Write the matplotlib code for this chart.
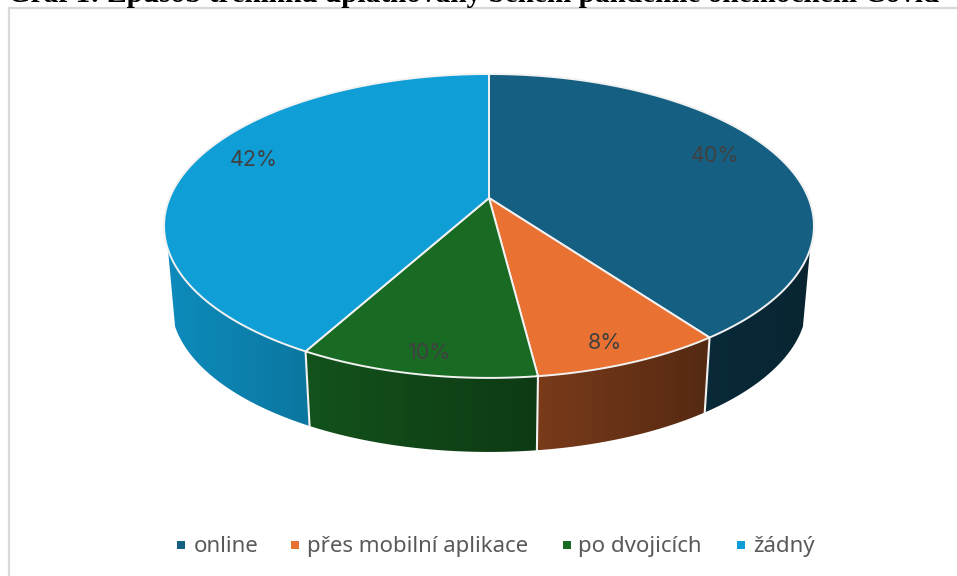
import numpy as np
import matplotlib
matplotlib.use('Agg')
import matplotlib.pyplot as plt
from matplotlib.patches import Polygon, Rectangle

# data
categories = ['online', 'přes mobilní aplikace', 'po dvojicích', 'žádný']
shares = [40, 8, 10, 42]
colors = ['#156082', '#E97132', '#196B24', '#0F9ED5']
title = 'Graf 1: Způsob tréninku uplatňovaný během pandemie onemocnění Covid'

# side shading, per slice: (at left end, at right end)
side_shade = [(0.44, 0.38), (0.52, 0.365), (0.77, 0.54), (0.88, 0.75)]

# layout of the tilted pie, in pixels
CX, CY = 489, 198
R, A, K = 319.4, 146.8, 0.184
DEPTH, BOTTOM_SCALE = 78, 0.978
SIDE_V = 0.33
EDGE = '#f2f2f2'
label_r = [0.8, 0.9, 0.9, 0.8]
label_nudge = [(-7, -7), (-9, 0), (5, 0), (4, -10)]
legend_box_x = [181, 295, 567, 741]
legend_text_x = [194, 307, 578, 753]
LEGEND_Y = 545


def top_xy(phi, r=1.0):
    # clockwise angle from 12 o'clock -> screen point with perspective
    u, v = r * np.sin(phi), -r * np.cos(phi)
    d = 1 - K * v
    return CX + R * u / d, CY + A * v / d


def bottom_xy(phi):
    x, y = top_xy(phi)
    return CX + BOTTOM_SCALE * (x - CX), CY + BOTTOM_SCALE * (y - CY) + DEPTH


fig = plt.figure(figsize=(9.57, 5.76), dpi=100)
ax = fig.add_axes([0, 0, 1, 1])
ax.axis('off')

# cut off title and chart frame
ax.text(8, 2, title, family='Liberation Serif', weight='bold', fontsize=21.1,
        va='baseline', ha='left', color='black')
ax.plot([9, 9, 957], [576, 8, 8], color='#d9d9d9', lw=1.6, solid_joinstyle='miter')

edges = np.radians(np.concatenate([[0], np.cumsum(shares) * 3.6]))
side_from = np.arccos(-SIDE_V)
side_to = 2 * np.pi - side_from

# side wall, gradient image clipped to each slice's outline
for i in range(len(shares)):
    a0 = max(edges[i], side_from)
    a1 = min(edges[i + 1], side_to)
    if a1 <= a0:
        continue
    phis = np.linspace(a0, a1, 120)
    xt, yt = top_xy(phis)
    xb, yb = bottom_xy(phis)
    outline = np.column_stack([np.r_[xt, xb[::-1]], np.r_[yt, yb[::-1]]])
    poly = Polygon(outline, closed=True, fc='none', ec='none', transform=ax.transData)
    ax.add_patch(poly)
    x_lo, x_hi = outline[:, 0].min(), outline[:, 0].max()
    y_lo, y_hi = outline[:, 1].min(), outline[:, 1].max()
    shade = np.linspace(side_shade[i][0], side_shade[i][1], 256)
    rgb = np.array(matplotlib.colors.to_rgb(colors[i]))
    grad = shade[None, :, None] * rgb[None, None, :]
    im = ax.imshow(grad, extent=(x_lo, x_hi, y_hi, y_lo), aspect='auto',
                   interpolation='bilinear', zorder=2)
    im.set_clip_path(poly)

ax.set_xlim(0, 957)
ax.set_ylim(576, 0)

# white lines between the side walls
for e in edges[1:-1]:
    if side_from < e < side_to:
        x0, y0 = top_xy(e)
        x1, y1 = bottom_xy(e)
        ax.plot([x0, x1], [y0, y1], color=EDGE, lw=1.5, zorder=3)

# top face
for i in range(len(shares)):
    phis = np.linspace(edges[i], edges[i + 1], 200)
    xs, ys = top_xy(phis)
    p = np.column_stack([np.r_[CX, xs], np.r_[CY, ys]])
    ax.add_patch(Polygon(p, closed=True, fc=colors[i], ec=EDGE, lw=1.4,
                         joinstyle='round', zorder=4))

# value labels
for i, v in enumerate(shares):
    mid = (edges[i] + edges[i + 1]) / 2
    x, y = top_xy(mid, label_r[i])
    ax.text(x + label_nudge[i][0], y + label_nudge[i][1], f'{v}%', fontsize=15.5,
            family='Inter', color='#404040', ha='center', va='center', zorder=5)

# legend
for i, name in enumerate(categories):
    ax.add_patch(Rectangle((legend_box_x[i] - 4, LEGEND_Y - 4), 8, 8, fc=colors[i], ec='none'))
    ax.text(legend_text_x[i], LEGEND_Y + 7, name, fontsize=16, family='Noto Sans',
            color='#595959', ha='left', va='baseline')

plt.savefig('out.png', dpi=100)
